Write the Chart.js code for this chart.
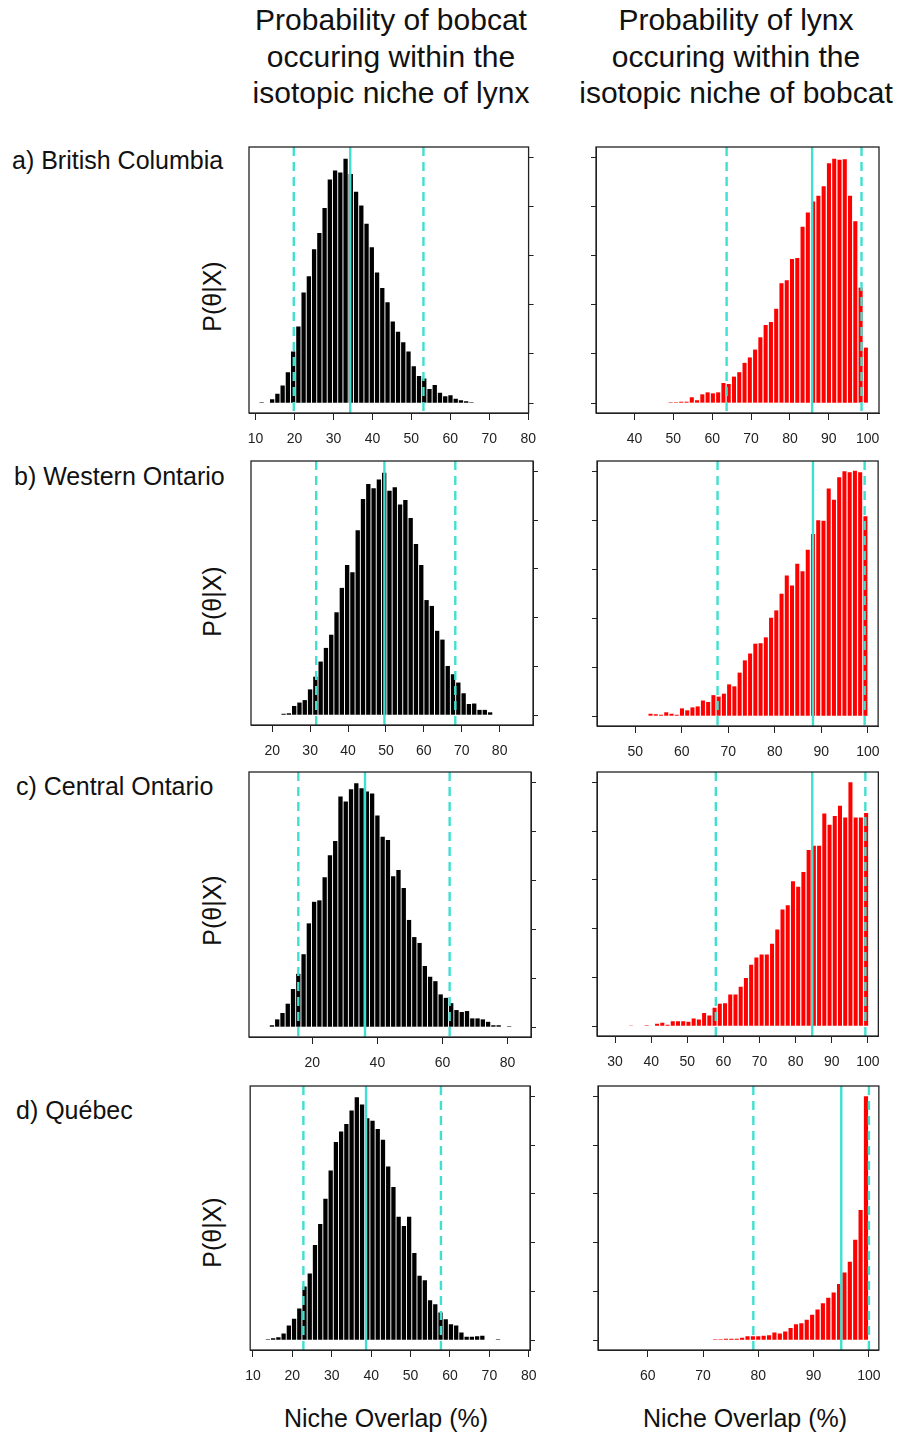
<!DOCTYPE html>
<html lang="en">
<head>
<meta charset="UTF-8">
<title>Niche overlap – bobcat and lynx</title>
<script src="https://cdn.jsdelivr.net/npm/chart.js"></script>
<style>
  body { margin: 0; background: #fff; font-family: "Liberation Sans", Arial, sans-serif; color: #111; }
  #page { position: relative; width: 899px; height: 1433px; overflow: hidden; }
  .txt { position: absolute; white-space: nowrap; }
  .head { font-size: 30px; line-height: 36.5px; width: 360px; text-align: center; top: 2px; }
  .row { font-size: 25px; line-height: 25px; }
  .ylab { font-size: 25px; line-height: 25px; width: 100px; height: 25px; text-align: center; transform: rotate(-90deg); }
  .xlab { font-size: 25px; line-height: 25px; width: 260px; text-align: center; top: 1406px; }
  canvas { position: absolute; }
</style>
</head>
<body>
<div id="page">
  <div class="txt head" style="left:211px">Probability of bobcat<br>occuring within the<br>isotopic niche of lynx</div>
  <div class="txt head" style="left:556px">Probability of lynx<br>occuring within the<br>isotopic niche of bobcat</div>

  <div class="txt row" style="left:12px; top:148px">a) British Columbia</div>
  <div class="txt row" style="left:14px; top:464px">b) Western Ontario</div>
  <div class="txt row" style="left:16px; top:774px">c) Central Ontario</div>
  <div class="txt row" style="left:16px; top:1098px">d) Québec</div>

  <div class="txt ylab" style="left:162px; top:284px">P(θ|X)</div>
  <div class="txt ylab" style="left:162px; top:589px">P(θ|X)</div>
  <div class="txt ylab" style="left:162px; top:898px">P(θ|X)</div>
  <div class="txt ylab" style="left:162px; top:1220px">P(θ|X)</div>

  <div class="txt xlab" style="left:256px">Niche Overlap (%)</div>
  <div class="txt xlab" style="left:615px">Niche Overlap (%)</div>
</div>

<script>
// heights are read in units of the y tick spacing (6 unlabelled ticks: 0..5)
const yTicks = [0, 1, 2, 3, 4, 5];

// a) British Columbia – bobcat in lynx niche
const bcBobcatStart = 11.55, bcBobcatBin = 1.347;
const bcBobcat = [0.02, 0.01, 0.08, 0.19, 0.36, 0.63, 1.05, 1.56, 2.25, 2.58, 3.13, 3.46, 3.97, 4.55, 4.73, 4.69, 4.97, 4.66, 4.30, 4.02, 3.65, 3.17, 2.66, 2.34, 2.05, 1.66, 1.45, 1.24, 1.05, 0.75, 0.55, 0.50, 0.29, 0.37, 0.21, 0.14, 0.16, 0.09, 0.06, 0.04, 0.02];
const bcBobcatCI = [19.8, 34.3, 53.1];
const bcBobcatTicks = [10, 20, 30, 40, 50, 60, 70, 80];

// a) British Columbia – lynx in bobcat niche
const bcLynxStart = 46.6, bcLynxBin = 1.357;
const bcLynx = [0.01, 0.01, 0.02, 0.02, 0.03, 0.03, 0.12, 0.06, 0.18, 0.22, 0.20, 0.22, 0.41, 0.39, 0.54, 0.63, 0.82, 0.93, 1.09, 1.34, 1.59, 1.65, 1.92, 2.44, 2.50, 2.93, 2.95, 3.59, 3.88, 4.10, 4.22, 4.41, 4.88, 4.97, 4.95, 4.96, 4.22, 3.70, 2.35, 1.13];
const bcLynxCI = [63.7, 85.7, 98.4];
const bcLynxTicks = [40, 50, 60, 70, 80, 90, 100];

// b) Western Ontario – bobcat in lynx niche
const woBobcatStart = 21.6, woBobcatBin = 1.397;
const woBobcat = [0.01, 0.03, 0.04, 0.19, 0.26, 0.31, 0.53, 0.79, 1.10, 1.38, 1.65, 2.11, 2.61, 3.08, 2.93, 3.79, 4.43, 4.74, 4.65, 4.83, 4.97, 4.60, 4.67, 4.32, 4.41, 4.04, 3.51, 3.08, 2.36, 2.24, 1.73, 1.55, 1.01, 0.84, 0.67, 0.45, 0.23, 0.24, 0.11, 0.11, 0.06, 0.01];
const woBobcatCI = [31.6, 49.6, 68.3];
const woBobcatTicks = [20, 30, 40, 50, 60, 70, 80];

// b) Western Ontario – lynx in bobcat niche
const woLynxStart = 53.3, woLynxBin = 1.126;
const woLynx = [0.05, 0.04, 0.03, 0.08, 0.05, 0.03, 0.16, 0.12, 0.18, 0.20, 0.32, 0.29, 0.43, 0.40, 0.46, 0.65, 0.61, 0.89, 1.14, 1.28, 1.48, 1.49, 1.61, 2.01, 2.16, 2.50, 2.87, 2.67, 3.11, 2.96, 3.40, 3.72, 4.00, 3.99, 4.65, 4.42, 4.88, 5.00, 4.98, 5.01, 4.98, 4.08];
const woLynxCI = [67.7, 88.2, 99.3];
const woLynxTicks = [50, 60, 70, 80, 90, 100];

// c) Central Ontario – bobcat in lynx niche
const coBobcatStart = 5.98, coBobcatBin = 1.62;
const coBobcat = [0.01, 0.04, 0.16, 0.29, 0.48, 0.78, 1.09, 1.49, 2.12, 2.56, 2.59, 3.06, 3.51, 3.80, 4.71, 4.61, 4.86, 4.98, 4.88, 4.81, 4.77, 4.32, 3.89, 3.82, 3.08, 3.21, 2.84, 2.19, 1.84, 1.72, 1.25, 1.03, 0.94, 0.67, 0.60, 0.49, 0.35, 0.31, 0.33, 0.18, 0.18, 0.16, 0.11, 0.04, 0.04, 0, 0.02];
const coBobcatCI = [15.7, 36.2, 62.2];
const coBobcatTicks = [20, 40, 60, 80];

// c) Central Ontario – lynx in bobcat niche
const coLynxStart = 34.4, coLynxBin = 1.447;
const coLynx = [0.005, 0.01, 0.01, 0.02, 0.01, 0.05, 0.07, 0.03, 0.10, 0.10, 0.10, 0.09, 0.16, 0.14, 0.27, 0.22, 0.38, 0.46, 0.47, 0.65, 0.65, 0.81, 0.99, 1.26, 1.41, 1.47, 1.47, 1.69, 1.98, 2.39, 2.48, 2.97, 2.86, 3.16, 3.61, 3.70, 3.70, 4.36, 4.13, 4.31, 4.52, 4.28, 5.00, 4.28, 4.28, 4.37];
const coLynxCI = [57.9, 84.6, 99.3];
const coLynxTicks = [30, 40, 50, 60, 70, 80, 90, 100];

// d) Québec – bobcat in lynx niche
const qcBobcatStart = 13.8, qcBobcatBin = 1.327;
const qcBobcat = [0.02, 0.04, 0.06, 0.14, 0.30, 0.44, 0.65, 1.10, 1.37, 1.95, 2.38, 2.90, 3.48, 4.06, 4.28, 4.43, 4.71, 4.98, 4.83, 4.55, 4.50, 4.33, 4.11, 3.56, 3.14, 2.53, 2.34, 2.53, 1.79, 1.32, 1.23, 0.82, 0.74, 0.57, 0.43, 0.33, 0.30, 0.16, 0.07, 0.07, 0.08, 0.09, 0, 0, 0.02];
const qcBobcatCI = [22.8, 38.7, 57.7];
const qcBobcatTicks = [10, 20, 30, 40, 50, 60, 70, 80];

// d) Québec – lynx in bobcat niche
const qcLynxStart = 72.2, qcLynxBin = 0.974;
const qcLynx = [0.02, 0.02, 0.03, 0.03, 0.03, 0.05, 0.08, 0.08, 0.08, 0.09, 0.10, 0.16, 0.14, 0.18, 0.25, 0.33, 0.35, 0.42, 0.52, 0.63, 0.76, 0.87, 0.98, 1.15, 1.39, 1.61, 2.06, 2.67, 5.00];
const qcLynxCI = [79.1, 95.0, 100.0];
const qcLynxTicks = [60, 70, 80, 90, 100];

const page = document.getElementById('page');
const PAD = { left: 16, right: 12, top: 4, bottom: 2 };
const X_AXIS_H = 36, Y_AXIS_W = 6;
const LINE_COLOR = '#40e0d0';

// median (solid) and interval bounds (dashed), then the box round the plot
const overlay = {
  id: 'overlay',
  afterDatasetsDraw(chart, args, opts) {
    const { ctx, chartArea: a } = chart;
    const x = chart.scales.x;
    ctx.save();
    ctx.strokeStyle = LINE_COLOR;
    ctx.lineWidth = 2.4;
    opts.lines.forEach((v, i) => {
      const px = x.getPixelForValue(v);
      ctx.setLineDash(i === 1 ? [] : [9, 6]);
      ctx.beginPath();
      ctx.moveTo(px, a.top);
      ctx.lineTo(px, a.bottom);
      ctx.stroke();
    });
    ctx.setLineDash([]);
    ctx.strokeStyle = '#222';
    ctx.lineWidth = 1.3;
    ctx.strokeRect(a.left, a.top, a.right - a.left, a.bottom - a.top);
    ctx.restore();
  }
};

function drawPanel(p) {
  const [L, T, R, B] = p.frame;
  const yOnLeft = p.ySide === 'left';
  const c = document.createElement('canvas');
  c.width = (R - L) + PAD.left + PAD.right + Y_AXIS_W;
  c.height = (B - T) + PAD.top + PAD.bottom + X_AXIS_H;
  c.style.left = (L - PAD.left - (yOnLeft ? Y_AXIS_W : 0)) + 'px';
  c.style.top = (T - PAD.top) + 'px';
  page.appendChild(c);

  const points = p.values.map((v, i) => ({ x: +(p.start + i * p.bin).toFixed(3), y: v }));

  new Chart(c, {
    type: 'bar',
    data: {
      datasets: [{
        data: points,
        backgroundColor: p.color,
        borderWidth: 0,
        barPercentage: p.barPct,
        categoryPercentage: 1
      }]
    },
    options: {
      responsive: false,
      animation: false,
      layout: { padding: PAD },
      plugins: {
        legend: { display: false },
        tooltip: { enabled: false },
        overlay: { lines: p.lines }
      },
      scales: {
        x: {
          type: 'linear',
          min: p.xRange[0],
          max: p.xRange[1],
          offset: false,
          grid: { drawOnChartArea: false, drawTicks: true, tickLength: 7, color: '#222', offset: false },
          border: { display: true, color: '#222' },
          ticks: { autoSkip: false, maxRotation: 0, padding: 11, color: '#222', font: { size: 14, family: 'Liberation Sans' } },
          afterBuildTicks: s => { s.ticks = p.ticks.map(v => ({ value: v })); },
          afterFit: s => { s.height = X_AXIS_H; }
        },
        y: {
          type: 'linear',
          position: p.ySide,
          min: -0.2,
          max: 5.21,
          grid: { drawOnChartArea: false, drawTicks: true, tickLength: 5, color: '#222' },
          border: { display: true, color: '#222' },
          ticks: { display: false },
          afterBuildTicks: s => { s.ticks = yTicks.map(v => ({ value: v })); },
          afterFit: s => { s.width = Y_AXIS_W; }
        }
      }
    },
    plugins: [overlay]
  });
}

const BLACK = '#000000', RED = '#ff0000';

drawPanel({ frame: [249, 147, 529, 413], ySide: 'right', xRange: [8.3, 80.1], start: bcBobcatStart, bin: bcBobcatBin, values: bcBobcat, lines: bcBobcatCI, ticks: bcBobcatTicks, color: BLACK, barPct: 0.82 });
drawPanel({ frame: [596, 147, 879, 413], ySide: 'left', xRange: [30.1, 102.9], start: bcLynxStart, bin: bcLynxBin, values: bcLynx, lines: bcLynxCI, ticks: bcLynxTicks, color: RED, barPct: 0.77 });

drawPanel({ frame: [251, 461, 533, 725], ySide: 'right', xRange: [14.4, 88.8], start: woBobcatStart, bin: woBobcatBin, values: woBobcat, lines: woBobcatCI, ticks: woBobcatTicks, color: BLACK, barPct: 0.82 });
drawPanel({ frame: [597, 461, 879, 726], ySide: 'left', xRange: [41.8, 102.2], start: woLynxStart, bin: woLynxBin, values: woLynx, lines: woLynxCI, ticks: woLynxTicks, color: RED, barPct: 0.77 });

drawPanel({ frame: [249, 772, 531, 1037], ySide: 'right', xRange: [0.55, 87.2], start: coBobcatStart, bin: coBobcatBin, values: coBobcat, lines: coBobcatCI, ticks: coBobcatTicks, color: BLACK, barPct: 0.82 });
drawPanel({ frame: [597, 772, 879, 1036], ySide: 'left', xRange: [25.0, 102.9], start: coLynxStart, bin: coLynxBin, values: coLynx, lines: coLynxCI, ticks: coLynxTicks, color: RED, barPct: 0.77 });

drawPanel({ frame: [250, 1086, 530, 1350], ySide: 'right', xRange: [9.3, 80.3], start: qcBobcatStart, bin: qcBobcatBin, values: qcBobcat, lines: qcBobcatCI, ticks: qcBobcatTicks, color: BLACK, barPct: 0.82 });
drawPanel({ frame: [598, 1086, 880, 1350], ySide: 'left', xRange: [51.0, 101.8], start: qcLynxStart, bin: qcLynxBin, values: qcLynx, lines: qcLynxCI, ticks: qcLynxTicks, color: RED, barPct: 0.77 });
</script>
</body>
</html>
